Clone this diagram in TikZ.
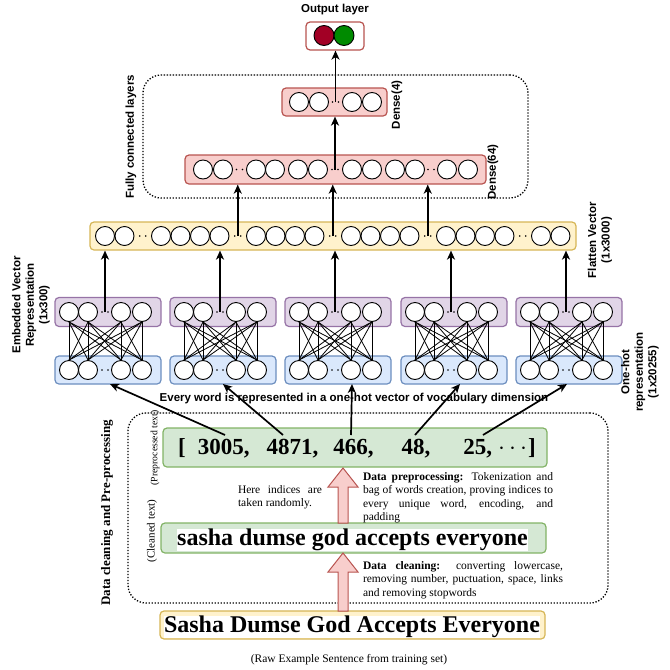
\documentclass[tikz,border=0pt]{standalone}
\usepackage{fontspec}
\setmainfont{Liberation Serif}
\setsansfont{Liberation Sans}
\usetikzlibrary{arrows.meta,calc}

\definecolor{redfill}{HTML}{F8CECC}
\definecolor{redline}{HTML}{B85450}
\definecolor{purfill}{HTML}{E1D5E7}
\definecolor{purline}{HTML}{9673A6}
\definecolor{bluefill}{HTML}{DAE8FC}
\definecolor{blueline}{HTML}{6C8EBF}
\definecolor{yelfill}{HTML}{FFF2CC}
\definecolor{yelline}{HTML}{D6B656}
\definecolor{grnfill}{HTML}{D5E8D4}
\definecolor{grnline}{HTML}{82B366}
\definecolor{outred}{HTML}{A20025}
\definecolor{outgreen}{HTML}{008A00}

\newcommand{\labfont}{\fontsize{11.5}{13.5}\selectfont\sffamily\bfseries}
\newcommand{\notefont}{\fontsize{11.5}{13.5}\selectfont}
\newcommand{\units}[3]{\foreach \ux [count=\ui] in {#3} \node[unit] (#1\ui) at (\ux,#2) {};}
\newcommand{\gapdots}[3]{\coordinate (#1) at (#2,#3); \fill ($(#1)+(-3,0)$) circle (0.9pt); \fill ($(#1)+(3,0)$) circle (0.9pt);}
\newcommand{\blockup}[2]{\path[blockarrow] ($(#1)+(-5,0)$) -- ($(#2)+(-5,19)$) -- ($(#2)+(-15,19)$) -- (#2) -- ($(#2)+(15,19)$) -- ($(#2)+(5,19)$) -- ($(#1)+(5,0)$) -- cycle;}

\tikzset{
  unit/.style={circle,draw,fill=white,line width=0.9pt,minimum size=19pt,inner sep=0pt},
  layer/.style={rectangle,rounded corners=4pt,line width=1.2pt,inner sep=0pt},
  redlayer/.style={layer,draw=redline,fill=redfill},
  purlayer/.style={layer,draw=purline,fill=purfill},
  bluelayer/.style={layer,draw=blueline,fill=bluefill},
  yellayer/.style={layer,draw=yelline,fill=yelfill},
  grnlayer/.style={layer,draw=grnline,fill=grnfill},
  groupbox/.style={draw,line width=1.3pt,dash pattern=on 1.3pt off 1.7pt,rounded corners=18pt},
  arr/.style={line width=1.7pt,-{Stealth[length=9pt,width=8pt,inset=2.5pt]}},
  wire/.style={line width=0.8pt},
  blockarrow/.style={draw=redline,fill=redfill,line width=1pt},
  lab/.style={font=\labfont,align=center,inner sep=0pt},
  note/.style={font=\notefont,align=justify,inner sep=0pt},
  bigtext/.style={font=\fontsize{24}{28}\selectfont\bfseries,fill=white,inner sep=0pt}
}

\begin{document}
\begin{tikzpicture}[x=1pt,y=-1pt]
\useasboundingbox (0,0) rectangle (670,670);

% group frames
\node[groupbox,minimum width=385pt,minimum height=123pt] (fc) at (335.5,136.5) {};
\node[groupbox,minimum width=480pt,minimum height=190pt] (prep) at (368,508) {};
\node[lab,rotate=90] (fclab) at (131,137) {Fully connected layers};
\node[font=\fontsize{13}{15}\selectfont\bfseries,rotate=90,inner sep=0pt] (preplab) at (107,513) {Data cleaning and Pre-processing};

% output layer
\node[lab] (outlab) at (335,10) {Output layer};
\node[layer,draw=redline,fill=white,minimum width=58pt,minimum height=28pt] (out) at (335,36) {};
\node[unit,fill=outred,minimum size=20pt] (o1) at (324,35.5) {};
\node[unit,fill=outgreen,minimum size=20pt] (o2) at (344,35.5) {};

% dense(4)
\node[redlayer,minimum width=105pt,minimum height=28pt] (d4) at (334.5,102) {};
\units{d4-}{102}{299,319,352,372}
\gapdots{g4}{335.5}{102}
\node[lab,rotate=90] (d4lab) at (397,105) {Dense(4)};

% dense(64)
\node[redlayer,minimum width=301pt,minimum height=29pt] (d64) at (335.5,169.5) {};
\units{d64-}{169.5}{203,223,256,275,298,318,352,372,395,415,447,468}
\gapdots{g64-1}{239.5}{169.5}
\gapdots{g64-2}{335}{169.5}
\gapdots{g64-3}{431}{169.5}
\node[lab,rotate=90] (d64lab) at (493,172) {Dense(64)};

% flatten
\node[yellayer,minimum width=486pt,minimum height=28pt] (flat) at (333,236) {};
\units{f}{236}{105,124.5,161,180.5,200,219.5,256,275.5,295,314.5,351,370.5,390,409.5,446,465.5,485,504.5,541,560.5}
\foreach \gx [count=\i] in {142.75,237.75,332.75,427.75,522.75} {\gapdots{fg\i}{\gx}{236}}
\node[lab,rotate=90] (flatlab) at (600,240) {Flatten Vector\\(1x3000)};

\draw[arr] (g4) -- (g4 |- out.south);
\draw[arr] (g64-2) -- (g64-2 |- d4.south);
\foreach \i in {2,3,4} \draw[arr] (fg\i) -- (fg\i |- d64.south);

% embedded + one-hot blocks
\foreach \s [count=\k] in {55,170,285,401,516} {
  \node[purlayer,minimum width=106pt,minimum height=29pt] (emb\k) at (\s+53,312) {};
  \node[bluelayer,minimum width=106pt,minimum height=28pt] (hot\k) at (\s+53,370) {};
  \foreach \o [count=\j] in {14,33,66,87} {
    \node[unit] (e\k-\j) at (\s+\o,312) {};
    \node[unit] (h\k-\j) at (\s+\o,370) {};
  }
  \gapdots{ed\k}{\s+50}{312}
  \gapdots{hd\k}{\s+50}{370}
  \foreach \a in {1,...,4}
    \foreach \b in {1,...,4}
      \draw[wire] (h\k-\a.north) -- (e\k-\b.south);
  \draw[arr] (ed\k) -- (ed\k |- flat.south);
}
\node[lab,rotate=90] (emblab) at (31,305) {Embedded Vector\\Representation\\(1x300)};
\node[lab,rotate=90] (hotlab) at (640,372) {One-hot\\representation\\(1x20255)};

% sentence boxes
\node[grnlayer,minimum width=384pt,minimum height=39pt] (idx) at (355,447.5) {};
\node[anchor=west,inner sep=0pt,font=\fontsize{23}{27}\selectfont\bfseries] (idxtext) at (178,448)
  {[\hspace{12pt}3005,\hspace{17pt}4871,\hspace{15pt}466,\hspace{28pt}48,\hspace{33pt}25,\hspace{6pt}$\cdots$\hspace{1pt}]};
\node[grnlayer,minimum width=385pt,minimum height=30pt] (clean) at (353.5,538) {};
\node[bigtext] (cleantext) at (352.5,540) {sasha dumse god accepts everyone};
\node[yellayer,minimum width=385pt,minimum height=28pt] (raw) at (352.5,625) {};
\node[bigtext] (rawtext) at (352,627) {Sasha Dumse God Accepts Everyone};
\node[font=\notefont,inner sep=0pt] (rawlab) at (349,660) {(Raw Example Sentence from training set)};
\node[font=\fontsize{9.7}{11}\selectfont,rotate=90,inner sep=0pt] (idxlab) at (155,448) {(Preprocessed text)};
\node[font=\fontsize{11}{13}\selectfont,rotate=90,inner sep=0pt] (cleanlab) at (152,531) {(Cleaned text)};

% block arrows
\coordinate (pa1) at (343,523);
\coordinate (pa2) at (343,468);
\coordinate (pb1) at (343,611);
\coordinate (pb2) at (343,553);
\blockup{pa1}{pa2}
\blockup{pb1}{pb2}

% notes
\node[note,text width=84pt] (rand) at (280,497) {Here indices are\linebreak taken randomly.};
\node[note,text width=190pt] (pre) at (458,497.5) {\textbf{Data preprocessing:} Tokenization and\linebreak bag of words creation, proving indices to\linebreak every unique word, encoding, and\linebreak padding};
\node[note,text width=200pt] (cln) at (463,580) {\textbf{Data cleaning:} converting lowercase,\linebreak removing number, puctuation, space, links\linebreak and removing stopwords};

% one-hot arrows
\foreach \sx/\tx [count=\i] in {225/110,283/223,351/352,415/460,483/567} {
  \coordinate (ws\i) at (\sx,435);
  \coordinate (wt\i) at (\tx,384);
  \draw[arr] (ws\i) -- (wt\i);
}
\node[lab] (wordlab) at (354,399) {Every word is represented in a one-hot vector of vocabulary dimension};
\end{tikzpicture}
\end{document}
